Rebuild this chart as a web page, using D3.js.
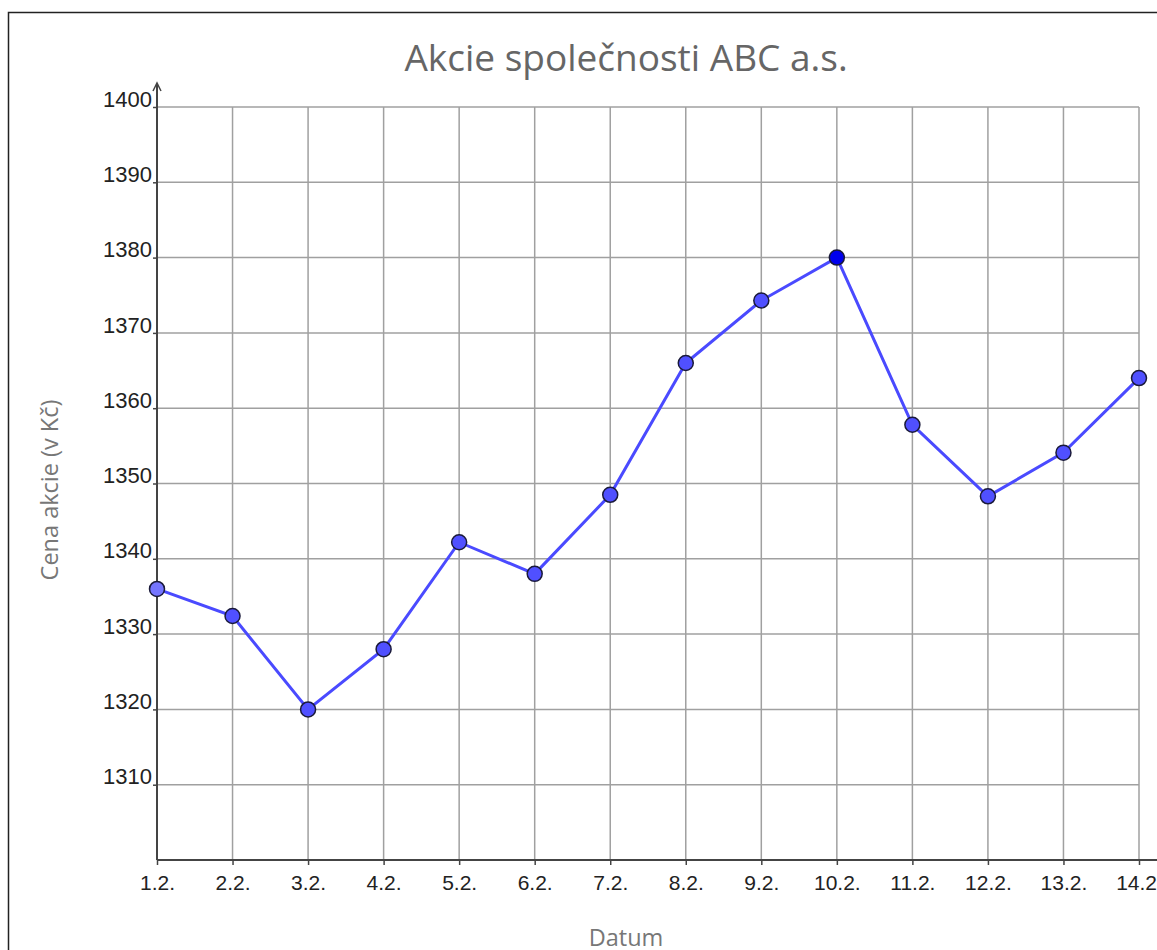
<!DOCTYPE html>
<html><head><meta charset="utf-8">
<script src="https://cdn.jsdelivr.net/npm/d3@7"></script>
<style>body{margin:0;background:#fff}svg{display:block}</style>
</head><body>
<svg id="c" width="1157" height="950"></svg>
<script>
const dates = ["1.2.","2.2.","3.2.","4.2.","5.2.","6.2.","7.2.","8.2.","9.2.","10.2.","11.2.","12.2.","13.2.","14.2."];
const prices = [1336,1332.4,1320,1328,1342.2,1338,1348.5,1366,1374.3,1380,1357.8,1348.3,1354.1,1364];
const yTicks = [1310,1320,1330,1340,1350,1360,1370,1380,1390,1400];
const title = "Akcie společnosti ABC a.s.";
const xTitle = "Datum";
const yTitle = "Cena akcie (v Kč)";

const svg = d3.select("#c");
svg.append("rect").attr("x",8.5).attr("y",12.5).attr("width",1200).attr("height",1000)
  .attr("fill","#fff").attr("stroke","#222").attr("stroke-width",1.5);

const x = d3.scaleLinear().domain([0, dates.length-1]).range([157, 1139]);
const y = d3.scaleLinear().domain([1300, 1400]).range([860, 107]);

const g = svg.append("g");
g.selectAll(".vg").data(d3.range(1, dates.length)).join("line")
  .attr("x1", d=>x(d)).attr("x2", d=>x(d)).attr("y1", y(1400)).attr("y2", y(1300))
  .attr("stroke","#a0a0a0").attr("stroke-width",1.5);
g.selectAll(".hg").data(yTicks).join("line")
  .attr("x1", x(0)).attr("x2", x(dates.length-1)).attr("y1", d=>y(d)).attr("y2", d=>y(d))
  .attr("stroke","#a0a0a0").attr("stroke-width",1.5);

const tickFont = "'Liberation Sans', Arial, sans-serif";
const xAxis = d3.axisBottom(x).tickValues(d3.range(dates.length)).tickFormat(i=>dates[i]).tickSize(5).tickSizeOuter(0);
const xa = svg.append("g").attr("transform",`translate(0,${y(1300)})`).call(xAxis);
xa.select(".domain").attr("d", `M${x(0)},0H1160`).attr("stroke","#444").attr("stroke-width",2);
xa.selectAll(".tick line").attr("stroke","#444").attr("stroke-width",1.5);
xa.selectAll(".tick text").attr("font-family",tickFont).attr("font-size",21).attr("fill","#222").attr("y",30).attr("dy","0");

const yAxis = d3.axisLeft(y).tickValues(yTicks).tickFormat(d3.format("d")).tickSize(4).tickSizeOuter(0);
const ya = svg.append("g").attr("transform",`translate(${x(0)},0)`).call(yAxis);
ya.select(".domain").attr("d", `M0,${y(1300)}V84`).attr("stroke","#444").attr("stroke-width",2);
ya.selectAll(".tick line").attr("stroke","#444").attr("stroke-width",1.5);
ya.selectAll(".tick text").attr("font-family",tickFont).attr("font-size",22).attr("fill","#222").attr("x",-5).attr("dy","-0.04em");
svg.append("path").attr("d", `M${x(0)-4},91L${x(0)},83L${x(0)+4},91`).attr("fill","none").attr("stroke","#444").attr("stroke-width",1.5);

const line = d3.line().x((d,i)=>x(i)).y(d=>y(d));
svg.append("path").datum(prices).attr("d", line).attr("fill","none").attr("stroke","#4a4aff").attr("stroke-width",3);
svg.selectAll(".pt").data(prices).join("circle")
  .attr("cx",(d,i)=>x(i)).attr("cy",d=>y(d)).attr("r",7.5)
  .attr("fill",(d,i)=> i===0 ? "#7575ff" : (i===9 ? "#0000ee" : "#5050ff"))
  .attr("stroke","#1a1a3a").attr("stroke-width",1.5);

svg.append("text").attr("x",626).attr("y",71).attr("text-anchor","middle")
  .attr("font-family","'Open Sans', sans-serif").attr("font-size",37).attr("fill","#666").text(title);
svg.append("text").attr("x",626).attr("y",946).attr("text-anchor","middle")
  .attr("font-family","'Open Sans', sans-serif").attr("font-size",23.5).attr("fill","#777").text(xTitle);
svg.append("text").attr("transform","translate(58,490) rotate(-90)").attr("text-anchor","middle")
  .attr("font-family","'Open Sans', sans-serif").attr("font-size",23.5).attr("fill","#777").text(yTitle);
</script>
</body></html>
